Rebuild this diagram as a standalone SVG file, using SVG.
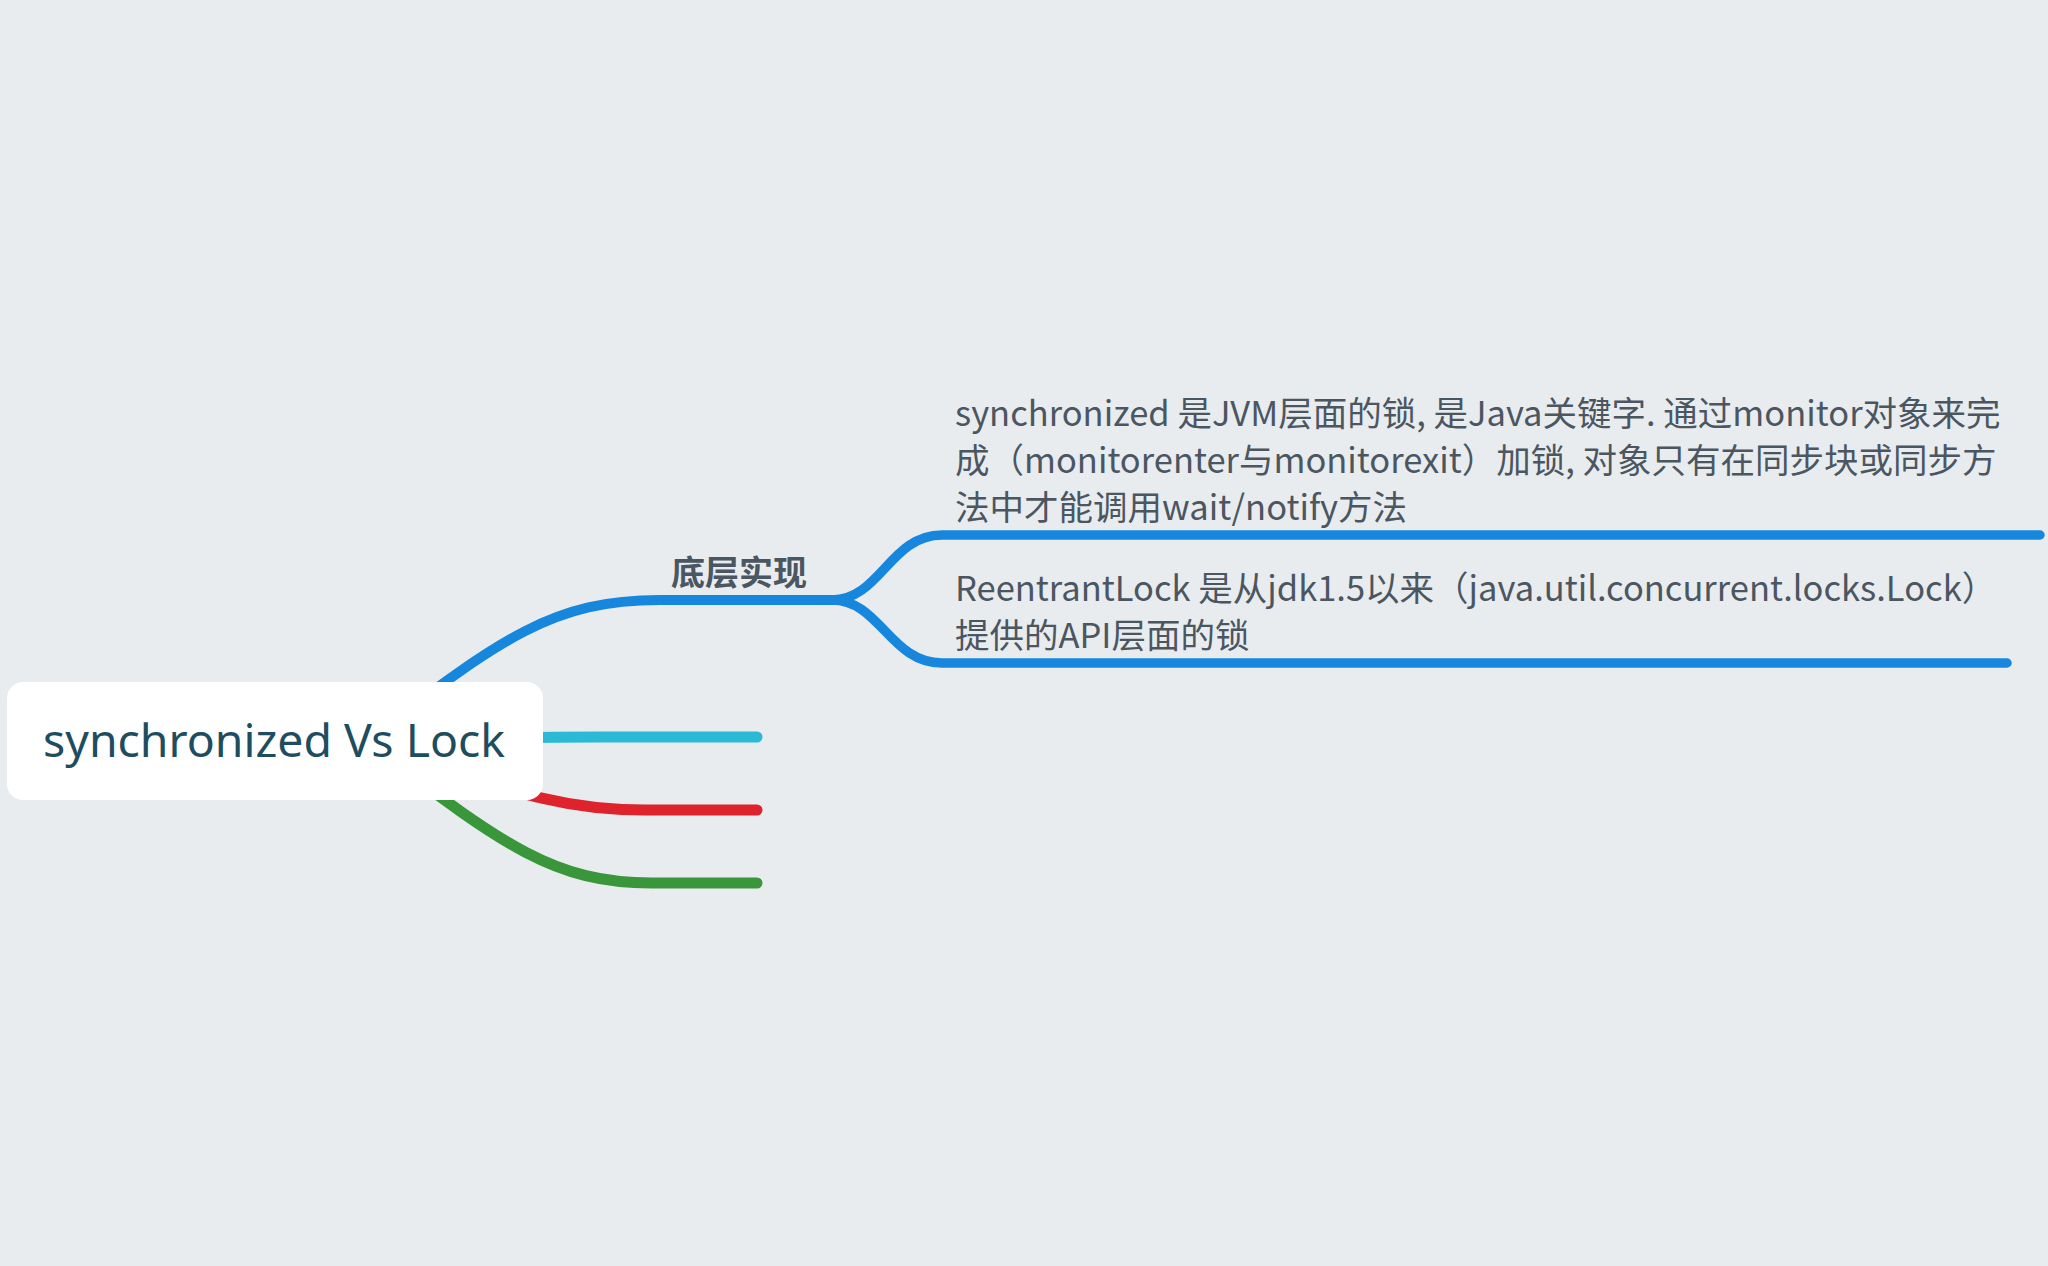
<svg xmlns="http://www.w3.org/2000/svg" width="2048" height="1266" viewBox="0 0 2048 1266">
<style>
.conn{fill:none;stroke-linecap:round;stroke-linejoin:round}
.blue{stroke:#1787de}
.txt{font-family:"Noto Sans CJK SC","Noto Sans",sans-serif;font-size:34.5px;fill:#4b5661}
.lbl{font-family:"Noto Sans CJK SC",sans-serif;font-size:34px;font-weight:bold;fill:#4a5661}
.root{font-family:"Noto Sans","Noto Sans CJK SC",sans-serif;font-size:46.4px;fill:#1e4d60}
</style>
<rect x="0" y="0" width="2048" height="1266" fill="#e8ecef"/>
<g id="connectors">
<path class="conn blue" stroke-width="10" d="M360 745 C500 640 550 600 660 600 L835 600"/>
<path class="conn blue" stroke-width="9.5" d="M832 600 C880 600 890 535 942 535 L2040 535"/>
<path class="conn blue" stroke-width="9.5" d="M832 600 C880 600 890 663 942 663 L2007 663"/>
<path class="conn" stroke="#2bbad6" stroke-width="11" d="M400 740 C480 738 520 737 600 737 L757 737"/>
<path class="conn" stroke="#df232d" stroke-width="11" d="M420 760 C520 795 570 810 645 810 L757 810"/>
<path class="conn" stroke="#3a963a" stroke-width="11" d="M360 737 C500 842 550 883 652 883 L757 883"/>
</g>
<g id="root">
<rect x="7" y="682" width="536" height="118" rx="16" fill="#ffffff"/>
<text class="root" x="43" y="757">synchronized Vs Lock</text>
</g>
<g id="n-impl">
<text class="lbl" x="671" y="585">底层实现</text>
</g>
<g id="n-sync">
<text class="txt" x="955" y="426">synchronized 是JVM层面的锁, 是Java关键字. 通过monitor对象来完</text>
<text class="txt" x="955" y="473">成（monitorenter与monitorexit）加锁, 对象只有在同步块或同步方</text>
<text class="txt" x="955" y="520">法中才能调用wait/notify方法</text>
</g>
<g id="n-lock">
<text class="txt" x="955" y="601">ReentrantLock 是从jdk1.5以来（java.util.concurrent.locks.Lock）</text>
<text class="txt" x="955" y="648">提供的API层面的锁</text>
</g>
</svg>
